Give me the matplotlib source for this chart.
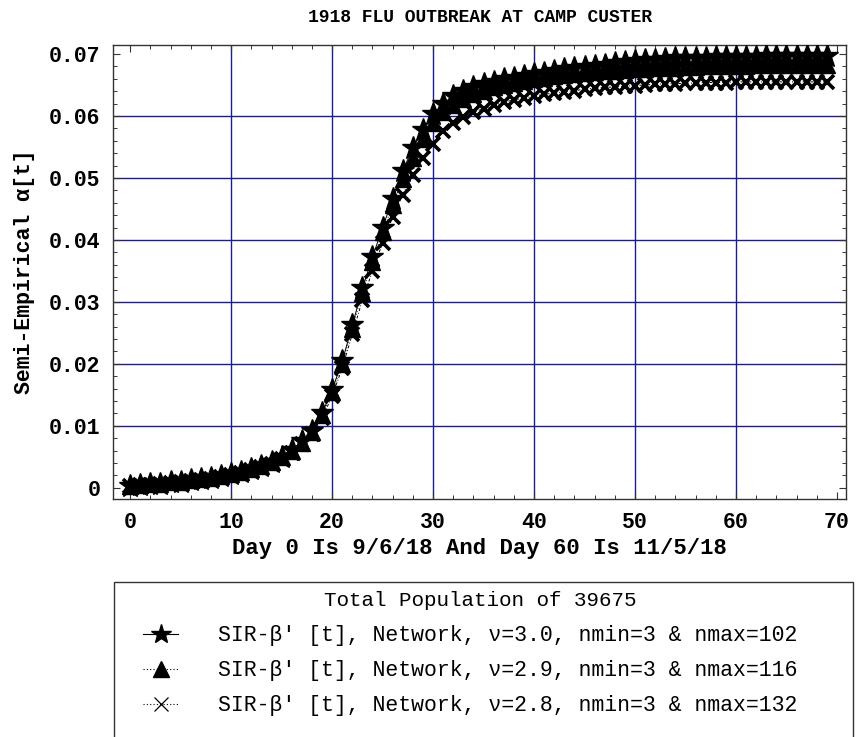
import matplotlib
matplotlib.use("Agg")
import matplotlib.pyplot as plt
from matplotlib.lines import Line2D
from matplotlib.patches import Rectangle
import numpy as np

plt.rcParams['font.family'] = ['Liberation Mono', 'DejaVu Sans']

days = list(range(70))

alpha_nu30 = [0.0003, 0.0004, 0.0006, 0.0007, 0.0009, 0.0010, 0.0012, 0.0014, 0.0016, 0.0019,
              0.0022, 0.0026, 0.0030, 0.0035, 0.0042, 0.0050, 0.0061, 0.0075, 0.0092, 0.0120,
              0.0158, 0.0204, 0.0262, 0.0322, 0.0372, 0.0420, 0.0466, 0.0512, 0.0548, 0.0578,
              0.0603, 0.0620, 0.0632, 0.0640, 0.0646, 0.0651, 0.0655, 0.0659, 0.0662, 0.0665,
              0.0667, 0.0670, 0.0672, 0.0675, 0.0677, 0.0679, 0.0681, 0.0683, 0.0685, 0.0687,
              0.0689, 0.0690, 0.0691, 0.0692, 0.0693, 0.0694, 0.0694, 0.0694, 0.0695, 0.0695,
              0.0695, 0.0695, 0.0695, 0.0696, 0.0696, 0.0696, 0.0696, 0.0696, 0.0696, 0.0696]

alpha_nu29 = [0.0003, 0.0004, 0.0006, 0.0007, 0.0009, 0.0010, 0.0012, 0.0014, 0.0016, 0.0019,
              0.0022, 0.0026, 0.0030, 0.0035, 0.0041, 0.0049, 0.0060, 0.0073, 0.0090, 0.0117,
              0.0154, 0.0200, 0.0257, 0.0315, 0.0365, 0.0412, 0.0456, 0.0498, 0.0533, 0.0563,
              0.0588, 0.0606, 0.0618, 0.0627, 0.0635, 0.0641, 0.0646, 0.0650, 0.0654, 0.0657,
              0.0660, 0.0662, 0.0664, 0.0666, 0.0668, 0.0670, 0.0671, 0.0672, 0.0673, 0.0674,
              0.0675, 0.0676, 0.0677, 0.0678, 0.0678, 0.0679, 0.0679, 0.0680, 0.0680, 0.0681,
              0.0681, 0.0681, 0.0682, 0.0682, 0.0682, 0.0682, 0.0682, 0.0682, 0.0682, 0.0682]

alpha_nu28 = [0.0003, 0.0004, 0.0005, 0.0007, 0.0008, 0.0010, 0.0011, 0.0013, 0.0015, 0.0018,
              0.0021, 0.0024, 0.0028, 0.0033, 0.0039, 0.0047, 0.0057, 0.0070, 0.0087, 0.0112,
              0.0148, 0.0193, 0.0248, 0.0303, 0.0350, 0.0395, 0.0437, 0.0473, 0.0505, 0.0532,
              0.0555, 0.0575, 0.0588, 0.0598, 0.0606, 0.0612, 0.0617, 0.0622, 0.0626, 0.0629,
              0.0632, 0.0635, 0.0637, 0.0639, 0.0641, 0.0643, 0.0645, 0.0646, 0.0647, 0.0648,
              0.0649, 0.0650, 0.0651, 0.0652, 0.0652, 0.0653, 0.0653, 0.0654, 0.0654, 0.0654,
              0.0655, 0.0655, 0.0655, 0.0655, 0.0655, 0.0655, 0.0655, 0.0655, 0.0655, 0.0655]

x_ticks = [0, 10, 20, 30, 40, 50, 60, 70]
y_ticks = [0, 0.01, 0.02, 0.03, 0.04, 0.05, 0.06, 0.07]
y_tick_labels = ['0', '0.01', '0.02', '0.03', '0.04', '0.05', '0.06', '0.07']

title = "1918 FLU OUTBREAK AT CAMP CUSTER"
xlabel = "Day 0 Is 9/6/18 And Day 60 Is 11/5/18"
ylabel = "Semi-Empirical \u03b1[t]"
legend_title = "Total Population of 39675"
labels = ["SIR-\u03b2' [t], Network, \u03bd=3.0, nmin=3 & nmax=102",
          "SIR-\u03b2' [t], Network, \u03bd=2.9, nmin=3 & nmax=116",
          "SIR-\u03b2' [t], Network, \u03bd=2.8, nmin=3 & nmax=132"]

W, H = 859, 737
fig = plt.figure(figsize=(W / 100, H / 100), dpi=100)
L, R, T, B = 113, 846, 44.7, 499
ax = fig.add_axes([L / W, 1 - B / H, (R - L) / W, (B - T) / H])

ax.set_xlim(-1.7, 70.9)
ax.set_ylim(-0.0018, 0.0715)

grid_col = '#1c1c8a'
for gx in x_ticks[1:-1]:
    ax.axvline(gx, color=grid_col, lw=1.0, zorder=1)
for gy in y_ticks[1:-1]:
    ax.axhline(gy, color=grid_col, lw=1.0, zorder=1)

ax.plot(days, alpha_nu30, color='black', lw=0.7, ls='-', marker='*', ms=17,
        mec='black', mfc='black', zorder=3)
ax.plot(days, alpha_nu29, color='black', lw=0.7, ls=(0, (1, 2)), marker='^', ms=12,
        mec='black', mfc='black', zorder=4)
ax.plot(days, alpha_nu28, color='black', lw=0.7, ls=(0, (3, 2, 1, 2)), marker='x', ms=10,
        mew=2.6, mec='black', zorder=5)

ax.set_xticks(x_ticks)
ax.set_xticks(np.arange(0, 71, 2), minor=True)
ax.set_yticks(y_ticks)
ax.set_yticklabels(y_tick_labels)
ax.set_yticks(np.arange(0, 0.0715, 0.002), minor=True)
ax.tick_params(which='both', direction='in', top=True, right=True, color='#333333')
ax.tick_params(which='major', length=5, width=0.8, labelsize=15.5, pad=9)
ax.tick_params(which='minor', length=3, width=0.7)
for lab in ax.get_xticklabels() + ax.get_yticklabels():
    lab.set_fontweight('bold')
for sp in ax.spines.values():
    sp.set_color('#333333')
    sp.set_linewidth(1.0)

ax.set_xlabel(xlabel, fontsize=16, fontweight='bold', labelpad=4)
ax.set_ylabel(ylabel, fontsize=15.5, fontweight='bold', labelpad=10)
fig.text((L + R) / 2 / W, 1 - 17 / H, title, ha='center', va='center',
         fontsize=13, fontweight='bold')

# legend box
fig.patches.append(Rectangle((114 / W, 1 - 745 / H), (853 - 114) / W, (745 - 582) / H,
                             transform=fig.transFigure, fill=False, ec='#333333', lw=1.0))
fig.text(480 / W, 1 - 600 / H, legend_title, ha='center', va='center', fontsize=15)

handles = [Line2D([], [], color='black', lw=0.8, ls='-', marker='*', ms=15),
           Line2D([], [], color='black', lw=0.8, ls=(0, (1, 2)), marker='^', ms=11),
           Line2D([], [], color='black', lw=0.8, ls=(0, (1, 2)), marker='x', ms=10, mew=0.9)]
leg = fig.legend(handles, labels, loc='upper left', bbox_to_anchor=(143 / W, 1 - 625.5 / H),
                 frameon=False, fontsize=15.5, handlelength=1.63, handletextpad=1.86,
                 labelspacing=0.64, borderpad=0, borderaxespad=0)

fig.savefig('out.png', dpi=100)
